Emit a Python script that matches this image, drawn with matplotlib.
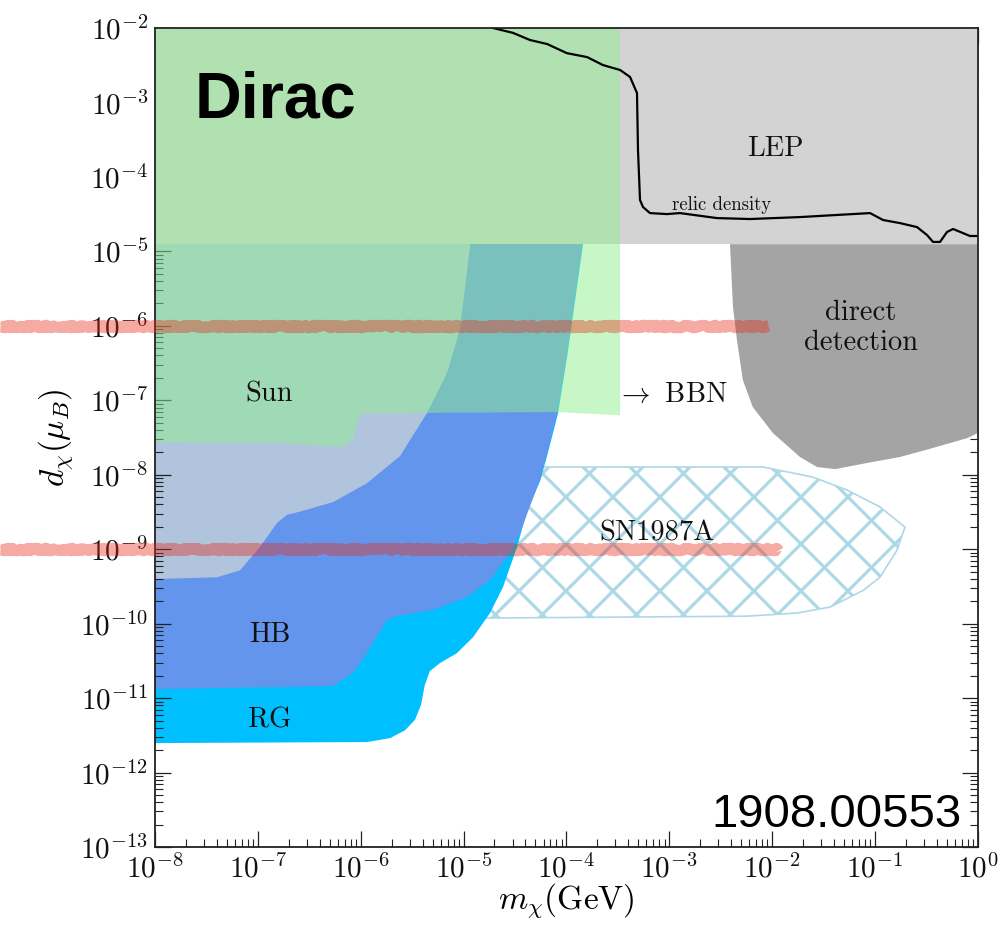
import numpy as np
import matplotlib
matplotlib.use("Agg")
import matplotlib.pyplot as plt
from matplotlib.patches import Polygon
from matplotlib.lines import Line2D
from matplotlib import transforms
from matplotlib.ticker import LogLocator, NullFormatter, FuncFormatter

plt.rcParams["mathtext.fontset"] = "cm"

# ---- exclusion regions in the (m_chi [GeV], d_chi [mu_B]) plane ----
lep_m = [1e-8, 1.0, 1.0, 1e-8]
lep_d = [1.25e-5, 1.25e-5, 1e-2, 1e-2]

sun_m = [1e-8, 1e-8, 1.76e-7, 6.7e-7, 8.4e-7, 9.4e-7, 1.05e-6, 8.1e-5, 3.33e-4, 3.33e-4]
sun_d = [1e-2, 2.75e-8, 2.67e-8, 2.36e-8, 2.92e-8, 5.4e-8, 6.7e-8, 6.95e-8, 6.3e-8, 1e-2]

pale_m = [1e-8, 1e-8, 4.0e-8, 6.7e-8, 1.05e-7, 1.53e-7, 1.92e-7, 2.57e-7, 5.4e-7,
          1.15e-6, 2.41e-6, 4.4e-6, 6.9e-6, 9.2e-6, 1.16e-5, 1.3e-5]
pale_d = [2e-5, 3.97e-10, 4.2e-10, 5.2e-10, 1.07e-9, 2.24e-9, 2.9e-9, 3.2e-9, 4.3e-9,
          7.7e-9, 1.78e-8, 6.7e-8, 2.32e-7, 8.8e-7, 1.22e-5, 2e-5]

hb_m = [1e-8, 1e-8, 5.4e-7, 8.4e-7, 1.23e-6, 1.8e-6, 2.26e-6, 5.0e-6, 1.08e-5, 1.81e-5,
        2.65e-5, 3.54e-5, 4.4e-5, 5.5e-5, 6.5e-5, 8.1e-5, 1.01e-4, 1.16e-4, 1.42e-4, 1.48e-4]
hb_d = [2e-5, 1.32e-11, 1.45e-11, 2.17e-11, 4.7e-11, 1.12e-10, 1.26e-10, 1.52e-10, 2.27e-10,
        3.85e-10, 7.9e-10, 1.65e-9, 3.7e-9, 8.5e-9, 1.95e-8, 6.7e-8, 4.3e-7, 1.79e-6, 1.22e-5, 2e-5]

rg_m = [1e-8, 1e-8, 1.15e-6, 1.93e-6, 2.7e-6, 3.37e-6, 3.86e-6, 4.2e-6, 4.7e-6, 5.9e-6,
        8.6e-6, 1.24e-5, 1.81e-5, 2.42e-5, 3.31e-5, 4.1e-5, 5.6e-5, 6.6e-5, 8.3e-5,
        1.03e-4, 1.19e-4, 1.45e-4, 1.5e-4]
rg_d = [2e-5, 2.49e-12, 2.57e-12, 2.9e-12, 3.7e-12, 5.1e-12, 8.1e-12, 1.5e-11, 2.3e-11,
        2.96e-11, 4.0e-11, 6.6e-11, 1.39e-10, 3.1e-10, 1.07e-9, 3.06e-9, 8.5e-9, 1.95e-8,
        6.7e-8, 4.3e-7, 1.79e-6, 1.22e-5, 2e-5]

dd_m = [3.9e-3, 4.17e-3, 4.56e-3, 5.2e-3, 6.5e-3, 1.02e-2, 1.87e-2, 2.74e-2, 4.1e-2,
        8.4e-2, 0.175, 0.367, 0.787, 1.0, 1.0]
dd_d = [1.25e-5, 1.79e-6, 6.4e-7, 1.87e-7, 8.1e-8, 3.63e-8, 1.73e-8, 1.27e-8, 1.19e-8,
        1.44e-8, 1.73e-8, 2.29e-8, 3.1e-8, 3.63e-8, 1.25e-5]

sn_m = [1.0e-5, 8.2e-3, 2.5e-2, 5.4e-2, 0.112, 0.196, 0.164, 0.112, 7.7e-2, 3.66e-2,
        1.75e-2, 5.7e-3, 1.81e-5, 1.0e-5]
sn_d = [1.27e-8, 1.27e-8, 9.3e-9, 6.2e-9, 3.7e-9, 1.98e-9, 9.7e-10, 4.2e-10, 2.8e-10,
        1.67e-10, 1.39e-10, 1.26e-10, 1.19e-10, 1.19e-10]

relic_m = [1.94e-5, 3.03e-5, 4.43e-5, 6.5e-5, 1.01e-4, 1.59e-4, 2.27e-4, 3.33e-4, 4.16e-4,
           4.86e-4, 4.97e-4, 5.2e-4, 5.56e-4, 6.5e-4, 9.5e-4, 1.27e-3, 2.92e-3, 6.1e-3,
           1.87e-2, 8.97e-2, 0.12, 0.175, 0.257, 0.321, 0.367, 0.43, 0.502, 0.575, 0.72,
           0.84, 1.0]
relic_d = [1e-2, 8.6e-3, 6.9e-3, 6.1e-3, 4.6e-3, 4.07e-3, 3.18e-3, 2.73e-3, 2.2e-3,
           1.34e-3, 2.3e-4, 4.9e-5, 3.94e-5, 3.27e-5, 3.17e-5, 3.27e-5, 2.8e-5, 2.72e-5,
           2.89e-5, 3.27e-5, 2.64e-5, 2.4e-5, 2.12e-5, 1.66e-5, 1.34e-5, 1.34e-5, 1.82e-5,
           2.0e-5, 1.76e-5, 1.61e-5, 1.61e-5]

# highlighted dipole values
highlight_d = [1e-6, 1e-9]
highlight_end = [0.763, 0.773]

fig = plt.figure(figsize=(10.06, 9.25), dpi=100)
ax = fig.add_axes([0.1541, 0.0843, 0.8178, 0.8854])
ax.set_xscale("log")
ax.set_yscale("log")
ax.set_xlim(1e-8, 1.0)
ax.set_ylim(1e-13, 1e-2)


def region(m, d, **kw):
    p = Polygon(np.column_stack([m, d]), closed=True, **kw)
    ax.add_patch(p)
    return p


# SN1987A: hatched outline
sn_patch = region(sn_m, sn_d, fill=False, edgecolor="#add8e6", lw=1.2, zorder=1.0)
W = 0.8178 * 1006
H = 0.8854 * 925
r = W / H
for c in np.arange(-1.5, 1.5, 47.0 / W):
    for s in (1, -1):
        xs = np.array([-0.2, 1.2])
        ys = s * r * (xs - c) + 0.37
        ln = Line2D(xs, ys, transform=ax.transAxes, color="#add8e6", lw=2.3, zorder=1.1)
        ax.add_line(ln)
        ln.set_clip_path(sn_patch)

region(rg_m, rg_d, facecolor="#00bfff", edgecolor="none", zorder=1.3)
region(hb_m, hb_d, facecolor="#6495ed", edgecolor="none", zorder=1.4)
region(pale_m, pale_d, facecolor="#b0c4de", edgecolor="none", zorder=1.5)
region(lep_m, lep_d, facecolor="#d3d3d3", edgecolor="none", zorder=1.6)
region(dd_m, dd_d, facecolor="#a4a4a4", edgecolor="none", zorder=1.6)
region(sun_m, sun_d, facecolor="#90ee90", alpha=0.5, edgecolor="none", zorder=1.8)
ax.plot(relic_m, relic_d, color="black", lw=1.6, zorder=2.0, solid_joinstyle="round")

# labels
cm = dict(family="cmr10", fontsize=20.5, color="#111111", zorder=3)
ax.text(1.3e-7, 9.5e-8, "Sun", ha="center", va="baseline", **cm)
ax.text(1.3e-7, 5.7e-11, "HB", ha="center", va="baseline", **cm)
ax.text(1.3e-7, 4.0e-12, "RG", ha="center", va="baseline", **cm)
ax.text(1.07e-2, 1.91e-4, "LEP", ha="center", va="baseline", **cm)
ax.text(7.3e-2, 1.2e-6, "direct", ha="center", va="baseline", **cm)
ax.text(7.3e-2, 4.73e-7, "detection", ha="center", va="baseline", **cm)
ax.text(3.1e-4, 9.5e-8, r"$\rightarrow$ BBN", ha="left", va="baseline", **cm)
ax.text(7.6e-4, 1.29e-9, "SN1987A", ha="center", va="baseline", **cm)
ax.text(3.26e-3, 3.59e-5, "relic density", ha="center", va="baseline",
        family="cmr10", fontsize=13.5, color="#111111", zorder=3)

ax.text(0.0486, 0.891, "Dirac", transform=ax.transAxes, ha="left", va="baseline",
        family="Liberation Sans", fontweight="bold", fontsize=46.5, color="black", zorder=3)
ax.text(0.981, 0.0244, "1908.00553", transform=ax.transAxes, ha="right", va="baseline",
        family="Liberation Sans", fontsize=34, color="black", zorder=3)

# axes styling
decade_fmt = FuncFormatter(lambda v, pos: r"$10^{%d}$" % int(round(np.log10(v))))
ax.xaxis.set_major_locator(LogLocator(base=10, numticks=20))
ax.yaxis.set_major_locator(LogLocator(base=10, numticks=20))
ax.xaxis.set_major_formatter(decade_fmt)
ax.yaxis.set_major_formatter(decade_fmt)
ax.xaxis.set_minor_locator(LogLocator(base=10, subs=np.arange(2, 10), numticks=200))
ax.yaxis.set_minor_locator(LogLocator(base=10, subs=np.arange(2, 10), numticks=200))
ax.xaxis.set_minor_formatter(NullFormatter())
ax.yaxis.set_minor_formatter(NullFormatter())
ax.tick_params(which="both", direction="in", top=True, right=True, colors="#222222",
               labelcolor="#111111")
ax.tick_params(which="major", length=11.5, width=0.9, labelsize=21, pad=5)
ax.tick_params(which="minor", length=5.5, width=0.8)
for sp in ax.spines.values():
    sp.set_linewidth(1.3)
    sp.set_color("#222222")

ax.set_xlabel(r"$m_\chi(\mathrm{GeV})$", fontsize=24)
ax.set_ylabel(r"$d_\chi(\mu_B)$", fontsize=24)
ax.xaxis.set_label_coords(0.5, -0.042)
ax.yaxis.set_label_coords(-0.097, 0.5)

# highlighter strokes across the figure
trans = transforms.blended_transform_factory(fig.transFigure, ax.transData)
for dval, xend in zip(highlight_d, highlight_end):
    hl = Line2D([0.0, xend], [dval, dval], transform=trans, color="#e62d19", alpha=0.4,
                lw=8, solid_capstyle="butt", zorder=20, clip_on=False)
    hl.set_sketch_params(scale=1.2, length=6, randomness=20)
    fig.add_artist(hl)

fig.savefig("out.png", dpi=100)
